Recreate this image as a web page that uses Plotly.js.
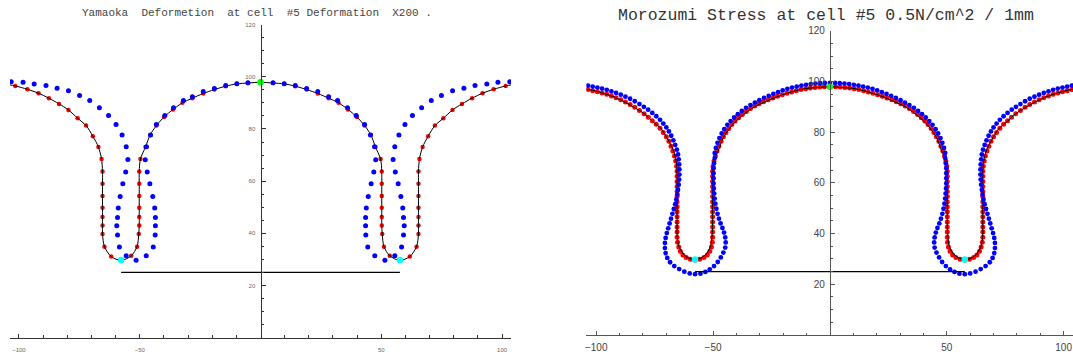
<!DOCTYPE html>
<html><head><meta charset="utf-8">
<script src="https://cdn.plot.ly/plotly-3.0.1.min.js"></script>
<style>html,body{margin:0;padding:0;background:#fff}#chart{width:1073px;height:358px}</style>
</head><body><div id="chart"></div>
<script>
// ---------- Left panel (Yamaoka) ----------
const yamaRedX = [-101.5,-96.5,-91.9,-87.6,-83.4,-79.5,-75.7,-72.2,-69.4,-67.1,-65.8,-65.4,-65.4,-65.4,-65.4,-65.4,-65.4,-65.4,-64.6,-61.8,-57.7,-53.5,-51.1,-50.4,-50.2,-50.2,-50.2,-50.2,-50.2,-50.2,-49.7,-47.6,-45.7,-43.1,-39.9,-36.2,-32.3,-28.2,-23.7,-19.1,-14.4,-9.8,-5.2,0,5.2,9.8,14.4,19.1,23.7,28.2,32.3,36.2,39.9,43.1,45.7,47.6,49.7,50.2,50.2,50.2,50.2,50.2,50.2,50.4,51.1,53.5,57.7,61.8,64.6,65.4,65.4,65.4,65.4,65.4,65.4,65.4,65.8,67.1,69.4,72.2,75.7,79.5,83.4,87.6,91.9,96.5,101.5];
const yamaRedY = [96.5,95.2,93.7,91.8,89.6,87.3,84.1,81.3,77.2,73.1,68.5,63.7,59.0,54.3,49.8,46.3,43.0,39.7,34.9,31.1,29.6,31.4,34.9,39.7,43.0,46.3,49.8,54.3,59.0,63.7,68.5,73.1,77.7,81.3,84.6,87.5,90.0,91.8,93.6,95.1,96.4,97.3,97.6,97.9,97.6,97.3,96.4,95.1,93.6,91.8,90.0,87.5,84.6,81.3,77.7,73.1,68.5,63.7,59.0,54.3,49.8,46.3,43.0,39.7,34.9,31.4,29.6,31.1,34.9,39.7,43.0,46.3,49.8,54.3,59.0,63.7,68.5,73.1,77.2,81.3,84.1,87.3,89.6,91.8,93.7,95.2,96.5];
const curveEndX = [-104.5, 104.5];
const curveEndY = [97.0, 97.0];
const yamaBlueX = [-103.2,-98.3,-93.7,-88.8,-84.2,-79.5,-74.9,-70.7,-66.7,-62.9,-59.8,-57.3,-55.6,-54.9,-55.8,-57.0,-58.1,-58.9,-59.2,-59.5,-59.2,-58.4,-55.6,-51.5,-47.3,-44.4,-43.6,-43.5,-43.5,-43.8,-44.6,-45.8,-46.9,-47.7,-47.2,-45.5,-43.1,-39.6,-36.0,-31.9,-28.2,-23.7,-19.1,-14.4,-9.8,-5.2,0,5.2,9.8,14.4,19.1,23.7,28.2,31.9,36.0,39.6,43.1,45.5,47.2,47.7,46.9,45.8,44.6,43.8,43.5,43.5,43.6,44.4,47.3,51.5,55.6,58.4,59.2,59.5,59.2,58.9,58.1,57.0,55.8,54.9,55.6,57.3,59.8,62.9,66.7,70.7,74.9,79.5,84.2,88.8,93.7,98.3,103.2];
const yamaBlueY = [98.1,97.9,97.2,96.7,95.6,94.6,92.8,90.9,88.1,85.2,81.7,77.7,73.2,68.3,63.5,59.0,54.1,49.7,46.1,42.9,39.4,34.8,31.4,29.7,31.4,34.8,39.4,42.9,46.1,49.7,54.1,59.0,63.5,68.2,73.2,77.7,81.7,85.2,88.1,90.9,92.3,94.4,95.5,96.7,97.3,97.7,98.0,97.7,97.3,96.7,95.5,94.4,92.3,90.9,88.1,85.2,81.7,77.7,73.2,68.2,63.5,59.0,54.1,49.7,46.1,42.9,39.4,34.8,31.4,29.7,31.4,34.8,39.4,42.9,46.1,49.7,54.1,59.0,63.5,68.3,73.2,77.7,81.7,85.2,88.1,90.9,92.8,94.6,95.6,96.7,97.2,97.9,98.1];

// shared markers
const cyanX = [-57.7, 57.7];
const cyanY = [29.8, 29.8];
const greenX = [0];
const greenY = [97.9];
const baseLineX = [-57.7, 57.7];
const baseLineY = [25, 25];

// ---------- Right panel (Morozumi) ----------
const moroRedX = [
 -103.5,-101.5,-99.5,-97.5,-95.5,-93.5,-91.5,-89.5,-87.5,-85.5,-83.5,-81.5,-79.5,-77.7,-76.0,-74.3,-72.7,-71.3,-70.0,-68.9,-68.0,-67.2,-66.5,-66.0,-65.6,
 -65.4,-65.4,-65.4,-65.4,-65.4,-65.4,-65.4,-65.4,-65.4,-65.4,-65.4,-65.4,-65.4,-65.4,
 -65.2,-64.7,-64.0,-62.9,-61.5,-59.7,-57.7,-55.7,-53.9,-52.5,-51.4,-50.7,-50.3,
 -50.2,-50.2,-50.2,-50.2,-50.2,-50.2,-50.2,-50.2,-50.2,-50.2,-50.2,-50.2,-50.2,-50.2,
 -50.0,-49.6,-49.0,-48.3,-47.5,-46.6,-45.6,-44.5,-43.3,-42.0,-40.6,-39.1,-37.5,-35.8,-34.0,-32.2,-30.3,-28.4,-26.4,-24.4,-22.4,-20.4,-18.4,-16.4,-14.4,-12.4,-10.4,-8.4,-6.4,-4.4,-2.4,
 0,
 103.5,101.5,99.5,97.5,95.5,93.5,91.5,89.5,87.5,85.5,83.5,81.5,79.5,77.7,76.0,74.3,72.7,71.3,70.0,68.9,68.0,67.2,66.5,66.0,65.6,
 65.4,65.4,65.4,65.4,65.4,65.4,65.4,65.4,65.4,65.4,65.4,65.4,65.4,65.4,
 65.2,64.7,64.0,62.9,61.5,59.7,57.7,55.7,53.9,52.5,51.4,50.7,50.3,
 50.2,50.2,50.2,50.2,50.2,50.2,50.2,50.2,50.2,50.2,50.2,50.2,50.2,50.2,
 50.0,49.6,49.0,48.3,47.5,46.6,45.6,44.5,43.3,42.0,40.6,39.1,37.5,35.8,34.0,32.2,30.3,28.4,26.4,24.4,22.4,20.4,18.4,16.4,14.4,12.4,10.4,8.4,6.4,4.4,2.4];
const moroRedY = [
 96.8,96.4,96.0,95.5,95.0,94.3,93.6,92.8,91.9,90.9,89.8,88.6,87.3,85.9,84.5,83.1,81.6,79.9,78.2,76.4,74.5,72.6,70.6,68.6,66.6,
 64.6,62.6,60.6,58.6,56.6,54.6,52.6,50.6,48.6,46.6,44.6,42.6,40.6,38.6,
 36.6,34.7,33.0,31.6,30.6,29.9,29.6,29.9,30.6,31.6,33.0,34.7,36.6,
 38.6,40.6,42.6,44.6,46.6,48.6,50.6,52.6,54.6,56.6,58.6,60.6,62.6,64.6,
 66.6,68.6,70.6,72.6,74.5,76.4,78.2,79.9,81.5,83.0,84.4,85.7,87.0,88.2,89.3,90.3,91.2,92.0,92.8,93.5,94.2,94.8,95.4,95.9,96.4,96.8,97.1,97.4,97.6,97.8,97.9,
 97.9,
 96.8,96.4,96.0,95.5,95.0,94.3,93.6,92.8,91.9,90.9,89.8,88.6,87.3,85.9,84.5,83.1,81.6,79.9,78.2,76.4,74.5,72.6,70.6,68.6,66.6,
 64.6,62.6,60.6,58.6,56.6,54.6,52.6,50.6,48.6,46.6,44.6,42.6,40.6,38.6,
 36.6,34.7,33.0,31.6,30.6,29.9,29.6,29.9,30.6,31.6,33.0,34.7,36.6,
 38.6,40.6,42.6,44.6,46.6,48.6,50.6,52.6,54.6,56.6,58.6,60.6,62.6,64.6,
 66.6,68.6,70.6,72.6,74.5,76.4,78.2,79.9,81.5,83.0,84.4,85.7,87.0,88.2,89.3,90.3,91.2,92.0,92.8,93.5,94.2,94.8,95.4,95.9,96.4,96.8,97.1,97.4,97.6,97.8,97.9];
const moroBlueX = [
 -103.5,-101.5,-99.5,-97.5,-95.5,-93.5,-91.5,-89.5,-87.5,-85.5,-83.5,-81.5,-79.6,-77.8,-76.0,-74.3,-72.7,-71.3,-70.0,-68.9,-67.9,-67.0,-66.2,-65.5,-65.0,-64.7,
 -64.5,-64.4,-64.4,-64.5,-64.7,-65.0,-65.3,-65.7,-66.2,-66.8,-67.4,-68.0,-68.6,-69.2,-69.8,-70.3,-70.6,-70.6,-70.3,-69.6,-68.4,-66.6,-64.5,-62.3,-60.0,-57.7,-55.4,-53.3,-51.4,-49.6,-48.0,-46.7,-45.6,-44.8,-44.6,-44.8,-45.3,-46.0,-46.8,-47.5,-48.1,-48.6,-49.0,-49.3,-49.5,-49.7,-49.8,-49.8,-49.8,-49.8,-49.6,-49.3,
 -49.3,-48.8,-48.1,-47.3,-46.3,-45.2,-43.9,-42.5,-41.0,-39.4,-37.7,-35.9,-34.0,-32.1,-30.2,-28.2,-26.2,-24.2,-22.2,-20.2,-18.2,-16.2,-14.2,-12.2,-10.2,-8.2,-6.2,-4.2,-2.2,
 0,
 103.5,101.5,99.5,97.5,95.5,93.5,91.5,89.5,87.5,85.5,83.5,81.5,79.6,77.8,76.0,74.3,72.7,71.3,70.0,68.9,67.9,67.0,66.2,65.5,65.0,64.7,
 64.5,64.4,64.4,64.5,64.7,65.0,65.3,65.7,66.2,66.8,67.4,68.0,68.6,69.2,69.8,70.3,70.6,70.6,70.3,69.6,68.4,66.6,64.5,62.3,60.0,57.7,55.4,53.3,51.4,49.6,48.0,46.7,45.6,44.8,44.6,44.8,45.3,46.0,46.8,47.5,48.1,48.6,49.0,49.3,49.5,49.7,49.8,49.8,49.8,49.8,49.6,49.3,
 49.3,48.8,48.1,47.3,46.3,45.2,43.9,42.5,41.0,39.4,37.7,35.9,34.0,32.1,30.2,28.2,26.2,24.2,22.2,20.2,18.2,16.2,14.2,12.2,10.2,8.2,6.2,4.2,2.2];
const moroBlueY = [
 98.4,98.0,97.6,97.2,96.7,96.1,95.5,94.8,94.0,93.2,92.2,91.1,90.0,88.9,87.6,86.3,84.9,83.4,81.9,80.3,78.6,76.8,75.0,73.1,71.2,69.3,
 67.3,65.3,63.3,61.3,59.3,57.3,55.4,53.5,51.6,49.7,47.8,45.9,44.0,42.1,40.2,38.3,36.3,34.3,32.3,30.4,28.7,27.2,26.0,25.0,24.3,24.0,24.2,24.9,25.9,27.2,28.8,30.6,32.5,34.5,36.5,38.5,40.4,42.2,44.0,45.9,47.8,49.8,51.8,53.8,55.8,57.8,59.8,61.8,63.8,65.8,67.8,69.8,
 71.8,73.8,75.8,77.7,79.5,81.2,82.9,84.4,85.8,87.1,88.4,89.6,90.7,91.7,92.6,93.5,94.3,95.1,95.8,96.5,97.1,97.6,98.0,98.4,98.7,99.0,99.2,99.3,99.4,
 99.4,
 98.4,98.0,97.6,97.2,96.7,96.1,95.5,94.8,94.0,93.2,92.2,91.1,90.0,88.9,87.6,86.3,84.9,83.4,81.9,80.3,78.6,76.8,75.0,73.1,71.2,69.3,
 67.3,65.3,63.3,61.3,59.3,57.3,55.4,53.5,51.6,49.7,47.8,45.9,44.0,42.1,40.2,38.3,36.3,34.3,32.3,30.4,28.7,27.2,26.0,25.0,24.3,24.0,24.2,24.9,25.9,27.2,28.8,30.6,32.5,34.5,36.5,38.5,40.4,42.2,44.0,45.9,47.8,49.8,51.8,53.8,55.8,57.8,59.8,61.8,63.8,65.8,67.8,69.8,
 71.8,73.8,75.8,77.7,79.5,81.2,82.9,84.4,85.8,87.1,88.4,89.6,90.7,91.7,92.6,93.5,94.3,95.1,95.8,96.5,97.1,97.6,98.0,98.4,98.7,99.0,99.2,99.3,99.4];

// ---------- ticks & titles ----------
const xTickVals = [-100, -50, 50, 100];
const xTickText = ['\u2212100', '\u221250', '50', '100'];
const xMinorVals = [-90,-80,-70,-60,-40,-30,-20,-10,10,20,30,40,60,70,80,90];
const yTickVals = [20, 40, 60, 80, 100, 120];
const yTickText = ['20', '40', '60', '80', '100', '120'];
const yMinorVals = [5,10,15,25,30,35,45,50,55,65,70,75,85,90,95,105,110,115];
const leftTitle = 'Yamaoka\u00a0\u00a0Deformetion\u00a0\u00a0at\u00a0cell\u00a0\u00a0#5\u00a0Deformation\u00a0\u00a0X200\u00a0.';
const rightTitle = 'Morozumi\u00a0Stress\u00a0at\u00a0cell\u00a0#5\u00a00.5N/cm^2\u00a0/\u00a01mm';

const curveX = [curveEndX[0]].concat(yamaRedX, [curveEndX[1]]);
const curveY = [curveEndY[0]].concat(yamaRedY, [curveEndY[1]]);

function panelTraces(xa, ya, redX, redY, blueX, blueY, redSize, blueSize) {
  return [
    {x: redX, y: redY, xaxis: xa, yaxis: ya, type: 'scatter', mode: 'markers',
     marker: {color: '#ff0000', size: redSize, line: {width: 0}}},
    {x: curveX, y: curveY, xaxis: xa, yaxis: ya, type: 'scatter', mode: 'lines',
     line: {color: '#000000', width: 1, shape: 'spline', smoothing: 0.8}},
    {x: blueX, y: blueY, xaxis: xa, yaxis: ya, type: 'scatter', mode: 'markers',
     marker: {color: '#0000ff', size: blueSize, line: {width: 0}}},
    {x: baseLineX, y: baseLineY, xaxis: xa, yaxis: ya, type: 'scatter', mode: 'lines',
     line: {color: '#000000', width: 1.2}},
    {x: cyanX, y: cyanY, xaxis: xa, yaxis: ya, type: 'scatter', mode: 'markers',
     marker: {color: '#00ffff', size: 6.5, line: {width: 0}}},
    {x: greenX, y: greenY, xaxis: xa, yaxis: ya, type: 'scatter', mode: 'markers',
     marker: {color: '#00ff00', size: 6.5, line: {width: 0}}}
  ];
}

const traces = panelTraces('x', 'y', yamaRedX, yamaRedY, yamaBlueX, yamaBlueY, 4.5, 5)
  .concat(panelTraces('x2', 'y2', moroRedX, moroRedY, moroBlueX, moroBlueY, 5, 4.8));

function xAxis(domain, range, anchor, fsize, fcolor, lcolor, standoff) {
  return {domain: domain, range: range, anchor: anchor, showline: true, linecolor: lcolor, linewidth: 1,
    ticks: 'inside', ticklen: 4, tickwidth: 1, tickcolor: lcolor, tickmode: 'array',
    tickvals: xTickVals, ticktext: xTickText, showgrid: false, zeroline: false,
    tickfont: {family: 'Liberation Sans, Arial, sans-serif', size: fsize, color: fcolor},
    ticklabelstandoff: standoff, ticklabeloverflow: 'allow',
    minor: {tickmode: 'array', tickvals: xMinorVals, ticks: 'inside', ticklen: 2.5, tickwidth: 1, tickcolor: lcolor, showgrid: false},
    fixedrange: true};
}
function yAxis(domain, pos, fsize, fcolor, lcolor, standoff) {
  return {domain: domain, range: [0, 120], anchor: 'free', position: pos, side: 'left', showline: true,
    linecolor: lcolor, linewidth: 1, ticks: 'inside', ticklen: 4, tickwidth: 1, tickcolor: lcolor,
    tickmode: 'array', tickvals: yTickVals, ticktext: yTickText, showgrid: false, zeroline: false,
    tickfont: {family: 'Liberation Sans, Arial, sans-serif', size: fsize, color: fcolor},
    ticklabelstandoff: standoff, ticklabeloverflow: 'allow',
    minor: {tickmode: 'array', tickvals: yMinorVals, ticks: 'inside', ticklen: 2.5, tickwidth: 1, tickcolor: lcolor, showgrid: false},
    fixedrange: true};
}

const layout = {
  width: 1073, height: 358, margin: {l: 0, r: 0, t: 0, b: 0}, showlegend: false,
  paper_bgcolor: '#ffffff', plot_bgcolor: 'rgba(0,0,0,0)',
  xaxis: xAxis([10/1073, 511/1073], [-103.7, 103.7], 'y', 6, '#666666', '#333333', 6),
  yaxis: yAxis([20.3/358, 333.4/358], 260.5/1073, 6, '#666666', '#333333', 4),
  xaxis2: xAxis([586.4/1073, 1], [-104.2, 104.0], 'y2', 10, '#444444', '#555555', 3),
  yaxis2: yAxis([23/358, 327.2/358], 829.9/1073, 10, '#444444', '#555555', 3),
  annotations: [
    {text: leftTitle, xref: 'paper', yref: 'paper', x: 257/1073, y: 1 - 12.7/358,
     xanchor: 'center', yanchor: 'middle', showarrow: false,
     font: {family: 'Liberation Mono, Courier New, monospace', size: 11, color: '#444444'}},
    {text: rightTitle, xref: 'paper', yref: 'paper', x: 826/1073, y: 1 - 15/358,
     xanchor: 'center', yanchor: 'middle', showarrow: false,
     font: {family: 'Liberation Mono, Courier New, monospace', size: 16.5, color: '#333333'}}
  ]
};

Plotly.newPlot('chart', traces, layout, {staticPlot: true, displayModeBar: false});
</script></body></html>
